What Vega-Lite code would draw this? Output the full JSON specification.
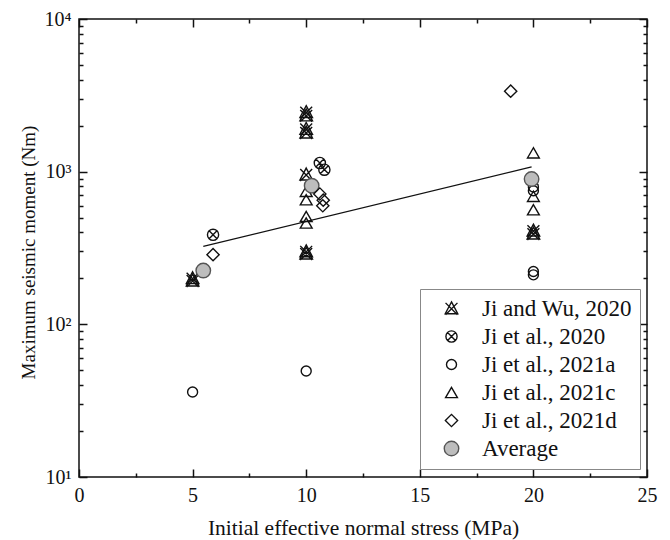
{
  "$schema": "https://vega.github.io/schema/vega-lite/v6.json",
  "width": 568,
  "height": 458,
  "autosize": {"type": "none"},
  "padding": {"left": 79, "top": 19, "right": 23, "bottom": 63},
  "background": "white",
  "config": {
    "view": {"stroke": "#111", "strokeWidth": 1.5},
    "font": "Liberation Serif",
    "axis": {
      "domain": false,
      "grid": false,
      "tickColor": "#111",
      "tickWidth": 1.5,
      "labelFont": "Liberation Serif",
      "labelFontSize": 20,
      "labelColor": "#111",
      "titleFont": "Liberation Serif",
      "titleFontWeight": "normal",
      "titleColor": "#111",
      "labelOverlap": false,
      "labelFlush": false,
      "labelBound": false
    },
    "legend": {"labelFont": "Liberation Serif"}
  },
  "layer": [
    {
      "data": {"values": [{"stress": 5.47, "moment": 324}, {"stress": 19.92, "moment": 1074}]},
      "mark": {"type": "line", "color": "#111", "strokeWidth": 1.3},
      "encoding": {
        "x": {
          "field": "stress", "type": "quantitative",
          "scale": {"domain": [0, 25], "nice": false, "zero": false},
          "axis": {
            "orient": "top", "title": null, "labels": false,
            "values": [0, 2.5, 5, 7.5, 10, 12.5, 15, 17.5, 20, 22.5, 25],
            "tickSize": {"condition": {"test": "datum.value % 5 == 0", "value": -8}, "value": -4}
          }
        },
        "y": {
          "field": "moment", "type": "quantitative",
          "scale": {"type": "log", "domain": [10, 10000], "nice": false},
          "axis": {
            "orient": "right", "title": null, "labels": false,
            "values": [10, 20, 30, 40, 50, 60, 70, 80, 90, 100, 200, 300, 400, 500, 600, 700, 800, 900, 1000, 2000, 3000, 4000, 5000, 6000, 7000, 8000, 9000, 10000],
            "tickSize": {"condition": {"test": "datum.value == 10 || datum.value == 100 || datum.value == 1000 || datum.value == 10000", "value": -8}, "value": -4}
          }
        }
      }
    },
    {
      "data": {"values": [
        {"series": "Ji and Wu, 2020", "stress": 5.0, "moment": 200},
        {"series": "Ji and Wu, 2020", "stress": 5.0, "moment": 193},
        {"series": "Ji and Wu, 2020", "stress": 10, "moment": 2450},
        {"series": "Ji and Wu, 2020", "stress": 10, "moment": 2330},
        {"series": "Ji and Wu, 2020", "stress": 10, "moment": 1900},
        {"series": "Ji and Wu, 2020", "stress": 10, "moment": 1800},
        {"series": "Ji and Wu, 2020", "stress": 10, "moment": 955},
        {"series": "Ji and Wu, 2020", "stress": 10, "moment": 300},
        {"series": "Ji and Wu, 2020", "stress": 10, "moment": 290},
        {"series": "Ji and Wu, 2020", "stress": 20, "moment": 410},
        {"series": "Ji and Wu, 2020", "stress": 20, "moment": 392},
        {"series": "Ji et al., 2020", "stress": 5.9, "moment": 386},
        {"series": "Ji et al., 2020", "stress": 10.6, "moment": 1140},
        {"series": "Ji et al., 2020", "stress": 10.8, "moment": 1030},
        {"series": "Ji et al., 2021a", "stress": 5.0, "moment": 36},
        {"series": "Ji et al., 2021a", "stress": 10.0, "moment": 49.5},
        {"series": "Ji et al., 2021a", "stress": 20, "moment": 795},
        {"series": "Ji et al., 2021a", "stress": 20, "moment": 750},
        {"series": "Ji et al., 2021a", "stress": 20, "moment": 222},
        {"series": "Ji et al., 2021a", "stress": 20, "moment": 211},
        {"series": "Ji et al., 2021c", "stress": 10, "moment": 743},
        {"series": "Ji et al., 2021c", "stress": 10, "moment": 655},
        {"series": "Ji et al., 2021c", "stress": 10, "moment": 509},
        {"series": "Ji et al., 2021c", "stress": 10, "moment": 461},
        {"series": "Ji et al., 2021c", "stress": 20, "moment": 1328},
        {"series": "Ji et al., 2021c", "stress": 20, "moment": 689},
        {"series": "Ji et al., 2021c", "stress": 20, "moment": 563},
        {"series": "Average", "stress": 5.47, "moment": 225},
        {"series": "Average", "stress": 10.24, "moment": 809},
        {"series": "Average", "stress": 19.92, "moment": 895},
        {"series": "Ji et al., 2021d", "stress": 5.9, "moment": 286},
        {"series": "Ji et al., 2021d", "stress": 10.6, "moment": 714},
        {"series": "Ji et al., 2021d", "stress": 10.75, "moment": 650},
        {"series": "Ji et al., 2021d", "stress": 10.73, "moment": 598},
        {"series": "Ji et al., 2021d", "stress": 19.0, "moment": 3366}
      ]},
      "mark": {"type": "point", "strokeWidth": 1.4, "opacity": 1},
      "encoding": {
        "x": {
          "field": "stress", "type": "quantitative",
          "scale": {"domain": [0, 25], "nice": false, "zero": false},
          "axis": {
            "orient": "bottom", "title": "Initial effective normal stress (MPa)",
            "values": [0, 2.5, 5, 7.5, 10, 12.5, 15, 17.5, 20, 22.5, 25],
            "labelExpr": "datum.value % 5 == 0 ? format(datum.value, 'd') : ''",
            "tickSize": {"condition": {"test": "datum.value % 5 == 0", "value": -8}, "value": -4},
            "labelPadding": 16,
            "titleFontSize": 21.5,
            "titlePadding": 8
          }
        },
        "y": {
          "field": "moment", "type": "quantitative",
          "scale": {"type": "log", "domain": [10, 10000], "nice": false},
          "axis": {
            "orient": "left", "title": "Maximum seismic moment (Nm)",
            "values": [10, 20, 30, 40, 50, 60, 70, 80, 90, 100, 200, 300, 400, 500, 600, 700, 800, 900, 1000, 2000, 3000, 4000, 5000, 6000, 7000, 8000, 9000, 10000],
            "labelExpr": "datum.value == 10 ? '10¹' : datum.value == 100 ? '10²' : datum.value == 1000 ? '10³' : datum.value == 10000 ? '10⁴' : ''",
            "tickSize": {"condition": {"test": "datum.value == 10 || datum.value == 100 || datum.value == 1000 || datum.value == 10000", "value": -8}, "value": -4},
            "labelPadding": 16,
            "titleFontSize": 19,
            "titlePadding": 6,
            "titleY": 233
          }
        },
        "shape": {
          "field": "series", "type": "nominal",
          "scale": {
            "domain": ["Ji and Wu, 2020", "Ji et al., 2020", "Ji et al., 2021a", "Ji et al., 2021c", "Ji et al., 2021d", "Average"],
            "range": [
              "M0,-1L0.95,0.8L-0.95,0.8Z M-0.9,-0.85L0.9,0.95 M0.9,-0.85L-0.9,0.95",
              "M1,0A1,1,0,1,1,-1,0A1,1,0,1,1,1,0Z M-0.7,-0.7L0.7,0.7 M0.7,-0.7L-0.7,0.7",
              "circle", "triangle-up", "diamond", "circle"
            ]
          },
          "legend": {
            "title": null,
            "orient": "none",
            "legendX": 341,
            "legendY": 270,
            "padding": 8,
            "symbolOffset": 12,
            "labelOffset": 19,
            "rowPadding": 4,
            "labelFontSize": 23,
            "labelColor": "#111",
            "strokeColor": "#888",
            "fillColor": "white",
            "symbolStrokeWidth": 1.4
          }
        },
        "size": {
          "field": "series", "type": "nominal",
          "scale": {
            "type": "ordinal",
            "domain": ["Ji and Wu, 2020", "Ji et al., 2020", "Ji et al., 2021a", "Ji et al., 2021c", "Ji et al., 2021d", "Average"],
            "range": [175, 125, 100, 140, 150, 210]
          }
        },
        "fill": {
          "field": "series", "type": "nominal",
          "scale": {
            "domain": ["Ji and Wu, 2020", "Ji et al., 2020", "Ji et al., 2021a", "Ji et al., 2021c", "Ji et al., 2021d", "Average"],
            "range": ["transparent", "transparent", "transparent", "transparent", "transparent", "#bdbdbd"]
          }
        },
        "stroke": {
          "field": "series", "type": "nominal",
          "scale": {
            "domain": ["Ji and Wu, 2020", "Ji et al., 2020", "Ji et al., 2021a", "Ji et al., 2021c", "Ji et al., 2021d", "Average"],
            "range": ["#111", "#111", "#111", "#111", "#111", "#555"]
          }
        }
      }
    }
  ],
  "resolve": {"axis": {"x": "independent", "y": "independent"}}
}
